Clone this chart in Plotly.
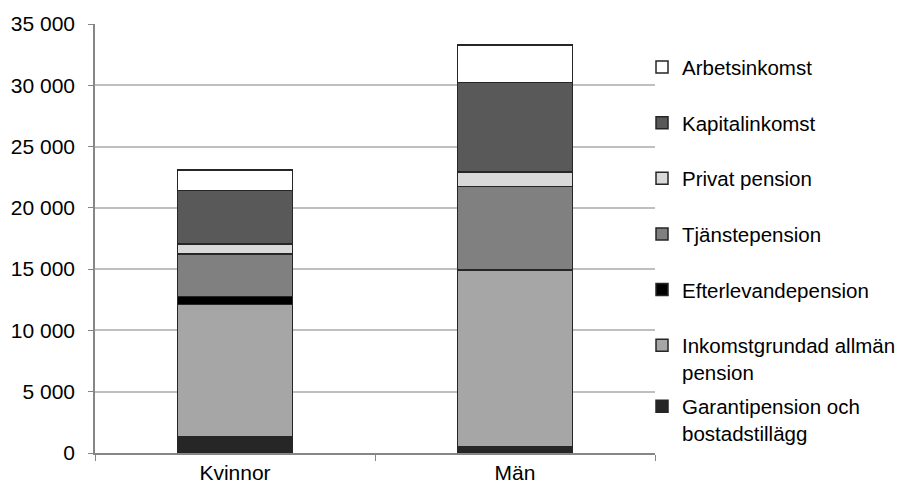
import plotly.graph_objects as go

categories = ["Kvinnor", "Män"]
series_names = [
    "Garantipension och<br>bostadstillägg",
    "Inkomstgrundad allmän<br>pension",
    "Efterlevandepension",
    "Tjänstepension",
    "Privat pension",
    "Kapitalinkomst",
    "Arbetsinkomst",
]
garanti = [1330, 510]
inkomst = [10800, 14400]
efterlevande = [620, 30]
tjanste = [3490, 6800]
privat = [810, 1170]
kapital = [4350, 7310]
arbets = [1690, 3080]
series_values = [garanti, inkomst, efterlevande, tjanste, privat, kapital, arbets]
colors = ["#262626", "#a6a6a6", "#000000", "#808080", "#d9d9d9", "#595959", "#ffffff"]
y_ticks = [0, 5000, 10000, 15000, 20000, 25000, 30000, 35000]

FONT = "Liberation Sans, Arial, sans-serif"
FS = 21
LFS = 20.5

fig = go.Figure()
n = len(series_names)
for i, (name, vals, col) in enumerate(zip(series_names, series_values, colors)):
    fig.add_trace(go.Bar(
        x=categories, y=vals, name=name,
        marker=dict(color=col, line=dict(color="#262626", width=1.5)),
        legendgroup=str(n - i),
        legendrank=n - i,
        legend="legend2" if i == 0 else "legend",
    ))

legend_common = dict(
    traceorder="grouped", tracegroupgap=26, valign="top",
    x=0.9768, xanchor="left", yanchor="top",
    font=dict(size=LFS, family=FONT), itemwidth=30,
    bgcolor="rgba(0,0,0,0)",
)

fig.update_layout(
    width=898, height=478,
    barmode="stack", bargap=0.59,
    separators=", ",
    paper_bgcolor="white", plot_bgcolor="white",
    margin=dict(l=87, r=251, t=16, b=33, autoexpand=False),
    font=dict(family=FONT, size=FS, color="#000000"),
    legend=dict(legend_common, y=0.946),
    legend2=dict(legend_common, y=0.155),
    yaxis=dict(
        range=[0, 35000], tickvals=y_ticks, tickformat=",d",
        showgrid=True, gridcolor="#bfbfbf", gridwidth=1.5,
        showline=True, linecolor="#868686", linewidth=1.5,
        ticks="outside", ticklen=5, tickcolor="#868686",
        zeroline=False, ticklabelstandoff=9, automargin=False,
    ),
    xaxis=dict(
        showline=True, linecolor="#868686", linewidth=1.5,
        ticks="outside", ticklen=6, tickcolor="#868686",
        tickson="boundaries", automargin=False,
    ),
)

fig.write_html("out.html")
